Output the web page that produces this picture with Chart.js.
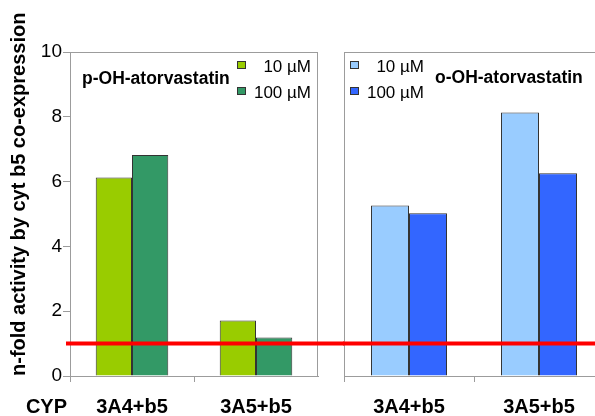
<!DOCTYPE html>
<html>
<head>
<meta charset="utf-8">
<script src="https://cdn.jsdelivr.net/npm/chart.js@4"></script>
<style>
html,body{margin:0;padding:0;background:#fff;overflow:hidden;width:595px;height:416px;}
#wl{position:absolute;left:0;top:0;width:344px;height:416px;}
#wr{position:absolute;left:343px;top:0;width:261px;height:416px;}
</style>
</head>
<body>
<div id="wl"><canvas id="cl"></canvas></div>
<div id="wr"><canvas id="cr"></canvas></div>
<script>
// ---- data ----
const categories = ['3A4+b5', '3A5+b5'];
const concLabels = ['10 µM', '100 µM'];
const pOH10 = [6.13, 1.71];
const pOH100 = [6.82, 1.19];
const oOH10 = [5.26, 8.13];
const oOH100 = [5.02, 6.26];
const panelTitles = ['p-OH-atorvastatin', 'o-OH-atorvastatin'];
const yTitle = 'n-fold activity by cyt b5 co-expression';
const xPrefix = 'CYP';
const yMin = 0, yMax = 10, yStep = 2;
const baseline = [1];

// ---- styles ----
const FONT = '"Liberation Sans", Arial, sans-serif';
const GRAY = '#9c9c9c';
const BORDER = '#333333';
const greenColors = ['#99cc00', '#339966'];
const blueColors = ['#99ccff', '#3366ff'];

Chart.defaults.font.family = FONT;
Chart.defaults.color = '#000';
Chart.defaults.animation = false;

const deco = {
  id: 'deco',
  afterDatasetsDraw(chart, args, o) {
    const ctx = chart.ctx, ca = chart.chartArea, y = chart.scales.y;
    // panel border (top/right)
    ctx.save();
    ctx.strokeStyle = GRAY; ctx.lineWidth = 1;
    ctx.beginPath();
    ctx.moveTo(ca.left, Math.round(ca.top) + 0.5);
    ctx.lineTo(ca.right, Math.round(ca.top) + 0.5);
    if (o.rightBorder) {
      ctx.moveTo(Math.round(ca.right) - 0.5, ca.top);
      ctx.lineTo(Math.round(ca.right) - 0.5, ca.bottom);
    }
    ctx.stroke();
    // reference line
    const yy = y.getPixelForValue(baseline[0]);
    ctx.strokeStyle = '#ff0000'; ctx.lineWidth = 4;
    ctx.beginPath();
    ctx.moveTo(o.lineStart, yy);
    ctx.lineTo(chart.width, yy);
    ctx.stroke();
    // panel title
    ctx.fillStyle = '#000';
    ctx.font = 'bold 17.5px ' + FONT;
    ctx.textBaseline = 'middle';
    ctx.textAlign = 'left';
    ctx.fillText(o.title, o.titleX, o.titleY);
    // legend
    ctx.font = '17px ' + FONT;
    chart.data.datasets.forEach((ds, i) => {
      const by = o.legendY + i * 26;
      ctx.fillStyle = ds.backgroundColor;
      ctx.fillRect(o.boxX, by, 9, 8);
      ctx.strokeStyle = BORDER; ctx.lineWidth = 1;
      ctx.strokeRect(o.boxX + 0.5, by + 0.5, 8, 7);
      ctx.fillStyle = '#000';
      ctx.textAlign = 'right';
      ctx.fillText(ds.label, o.textRight, by + 6);
    });
    // CYP prefix
    if (o.prefix) {
      ctx.font = 'bold 20px ' + FONT;
      ctx.textAlign = 'right';
      ctx.fillText(o.prefix, 67, 407);
    }
    ctx.restore();
  }
};

function xScale() {
  return {
    grid: {
      offset: true, drawOnChartArea: false, tickLength: 6,
      color: c => c.type === 'tick' ? GRAY : 'rgba(0,0,0,0)'
    },
    border: { color: GRAY },
    ticks: { font: { size: 20, weight: 'bold' }, color: '#000', padding: 13, maxRotation: 0 },
    afterFit: s => { s.height = 40; }
  };
}

function makeDatasets(v1, v2, colors) {
  return [v1, v2].map((v, i) => ({
    label: concLabels[i],
    data: v,
    backgroundColor: colors[i],
    borderColor: BORDER,
    borderWidth: 1,
    categoryPercentage: 0.585,
    barPercentage: 1
  }));
}

new Chart(document.getElementById('cl'), {
  type: 'bar',
  data: { labels: categories, datasets: makeDatasets(pOH10, pOH100, greenColors) },
  options: {
    responsive: true, maintainAspectRatio: false,
    layout: { padding: { top: 52, right: 26, left: 0, bottom: 0 } },
    plugins: {
      legend: { display: false }, tooltip: { enabled: false },
      deco: { rightBorder: true, lineStart: 66, title: panelTitles[0], titleX: 82, titleY: 79,
              boxX: 237, legendY: 61, textRight: 311, prefix: xPrefix }
    },
    scales: {
      x: xScale(),
      y: {
        min: yMin, max: yMax,
        ticks: { stepSize: yStep, font: { size: 19 }, color: '#000', padding: 1 },
        grid: { drawOnChartArea: false, tickLength: 7, color: GRAY },
        border: { color: GRAY },
        title: { display: true, text: yTitle, align: 'start', font: { size: 20, weight: 'bold' },
                 color: '#000', padding: { top: 7, bottom: 0 } },
        afterFit: s => { s.width = 70; }
      }
    }
  },
  plugins: [deco]
});

new Chart(document.getElementById('cr'), {
  type: 'bar',
  data: { labels: categories, datasets: makeDatasets(oOH10, oOH100, blueColors) },
  options: {
    responsive: true, maintainAspectRatio: false,
    layout: { padding: { top: 52, right: 0, left: 1, bottom: 0 } },
    plugins: {
      legend: { display: false }, tooltip: { enabled: false },
      deco: { rightBorder: false, lineStart: 0, title: panelTitles[1], titleX: 92, titleY: 78,
              boxX: 7, legendY: 61, textRight: 81, prefix: null }
    },
    scales: {
      x: xScale(),
      y: {
        min: yMin, max: yMax,
        ticks: { display: false, stepSize: yStep },
        grid: { drawOnChartArea: false, drawTicks: false },
        border: { color: GRAY },
        afterFit: s => { s.width = 0; }
      }
    }
  },
  plugins: [deco]
});
</script>
</body>
</html>
